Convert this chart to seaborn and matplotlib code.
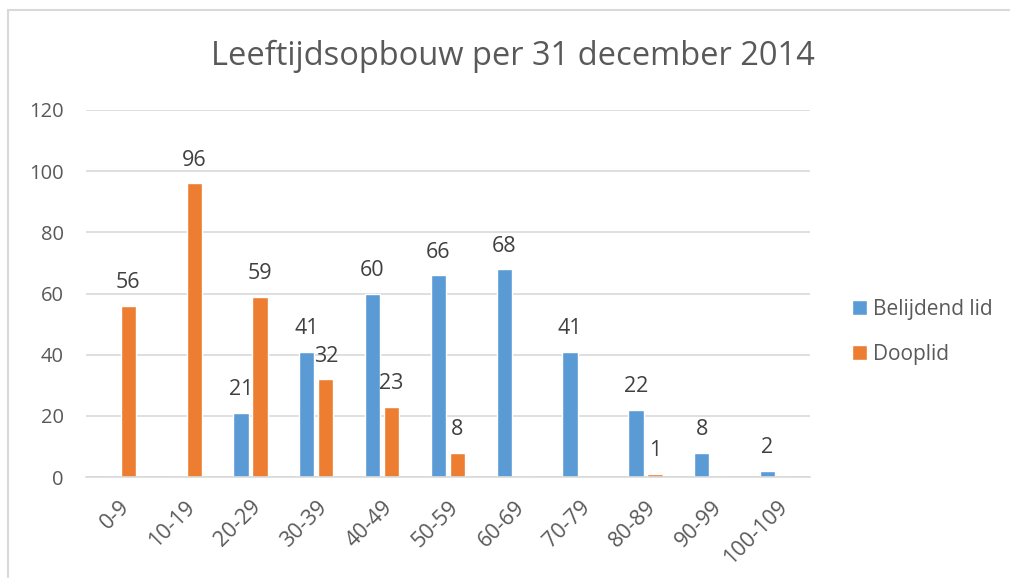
import matplotlib
matplotlib.use("Agg")
import matplotlib.pyplot as plt
import pandas as pd
import seaborn as sns
from matplotlib.patches import Rectangle

categories = ["0-9", "10-19", "20-29", "30-39", "40-49", "50-59",
              "60-69", "70-79", "80-89", "90-99", "100-109"]
belijdend = [0, 0, 21, 41, 60, 66, 68, 41, 22, 8, 2]
dooplid = [56, 96, 59, 32, 23, 8, 0, 0, 1, 0, 0]
series_names = ["Belijdend lid", "Dooplid"]
colors = ["#5B9BD5", "#ED7D31"]

df = pd.DataFrame({
    "Leeftijd": categories * 2,
    "Aantal": belijdend + dooplid,
    "Soort": [series_names[0]] * len(categories) + [series_names[1]] * len(categories),
})

sns.set_style("white")
plt.rcParams["font.family"] = ["Open Sans", "DejaVu Sans"]
text_color = "#595959"

fig = plt.figure(figsize=(10.1, 5.78), dpi=100)
ax = fig.add_axes([0.085, 0.1747, 0.717, 0.635])

sns.barplot(data=df, x="Leeftijd", y="Aantal", hue="Soort", order=categories,
            hue_order=series_names, palette=colors, width=0.58, gap=0.2,
            saturation=1, ax=ax)

for cont in ax.containers:
    labels = [f"{v:.0f}" if v > 0 else "" for v in cont.datavalues]
    ax.bar_label(cont, labels=labels, padding=9, fontsize=15.5, color="#404040")

ax.set_ylim(0, 120)
ax.set_yticks(range(0, 121, 20))
ax.yaxis.grid(True, color="#D9D9D9", linewidth=1.2)
ax.set_axisbelow(True)
for s in ["top", "right", "left"]:
    ax.spines[s].set_visible(False)
ax.spines["bottom"].set_color("#D9D9D9")
ax.spines["bottom"].set_linewidth(1.2)
ax.set_xlabel("")
ax.set_ylabel("")
ax.tick_params(axis="y", length=0, labelsize=14.5, labelcolor=text_color, pad=16)
ax.tick_params(axis="x", length=0, labelsize=15.5, labelcolor=text_color, pad=14)
plt.setp(ax.get_xticklabels(), rotation=45, ha="right", rotation_mode="anchor")
ax.set_xlim(-0.5, len(categories) - 0.5)

ax.legend(loc="center left", bbox_to_anchor=(1.032, 0.395), frameon=False,
          fontsize=15, labelcolor=text_color, handlelength=0.7, handleheight=0.7,
          handletextpad=0.3, labelspacing=1.15)

fig.text(0.508, 0.903, "Leeftijdsopbouw per 31 december 2014", ha="center",
         va="center", fontsize=23.5, color=text_color)

fig.patches.append(Rectangle((8 / 1010, -0.1), 1.2, 1.1 - 10 / 578,
                             transform=fig.transFigure, fill=False,
                             edgecolor="#D9D9D9", linewidth=1.5))

fig.savefig("out.png", dpi=100)
